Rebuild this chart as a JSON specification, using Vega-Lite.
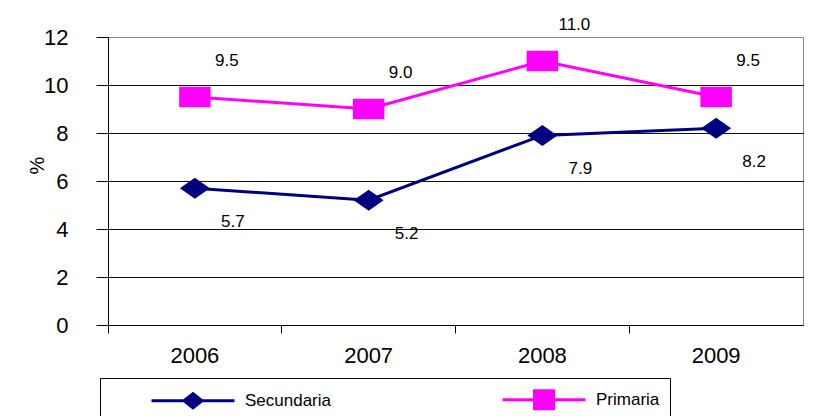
{
  "$schema": "https://vega.github.io/schema/vega-lite/v6.json",
  "autosize": "none",
  "width": 695,
  "height": 288,
  "padding": {"left": 108, "top": 37, "right": 24, "bottom": 91},
  "background": "white",
  "data": {
    "values": [
      {"year": "2006", "series": "Secundaria", "value": 5.7},
      {"year": "2007", "series": "Secundaria", "value": 5.2},
      {"year": "2008", "series": "Secundaria", "value": 7.9},
      {"year": "2009", "series": "Secundaria", "value": 8.2},
      {"year": "2006", "series": "Primaria", "value": 9.5},
      {"year": "2007", "series": "Primaria", "value": 9.0},
      {"year": "2008", "series": "Primaria", "value": 11.0},
      {"year": "2009", "series": "Primaria", "value": 9.5}
    ]
  },
  "encoding": {
    "x": {
      "field": "year", "type": "ordinal",
      "scale": {"type": "band", "paddingInner": 0, "paddingOuter": 0},
      "axis": {
        "title": null, "labelAngle": 0, "bandPosition": 0, "ticks": true, "tickSize": 8,
        "tickColor": "black", "domainColor": "black", "labelPadding": 12,
        "labelFont": "Liberation Sans", "labelFontSize": 22, "labelColor": "black", "grid": false
      }
    },
    "y": {
      "field": "value", "type": "quantitative",
      "scale": {"domain": [0, 12], "nice": false},
      "axis": {
        "values": [0, 2, 4, 6, 8, 10, 12], "grid": true,
        "gridColor": {"condition": {"test": "datum.value === 12", "value": "#888888"}, "value": "#111111"},
        "tickSize": 12, "tickColor": "black", "domainColor": "black", "labelPadding": 28,
        "labelFont": "Liberation Sans", "labelFontSize": 22, "labelColor": "black",
        "title": "%", "titleFont": "Liberation Sans", "titleFontSize": 20, "titleFontWeight": "normal",
        "titleColor": "black", "titleX": -71, "titleY": 128, "titleAngle": -90,
        "titleAlign": "center", "titleBaseline": "middle"
      }
    }
  },
  "layer": [
    {
      "mark": {"type": "line", "strokeWidth": 3},
      "encoding": {
        "color": {
          "field": "series", "type": "nominal",
          "scale": {"domain": ["Secundaria", "Primaria"], "range": ["#000080", "#FF00FF"]},
          "legend": {
            "orient": "none", "legendX": -8, "legendY": 341, "direction": "horizontal", "title": null,
            "strokeColor": "black", "padding": 10, "symbolSize": 400,
            "labelFont": "Liberation Sans", "labelFontSize": 17, "labelColor": "black",
            "labelOffset": 112, "columnPadding": 129,
            "encode": {
              "symbols": {
                "update": {
                  "shape": {"signal": "datum.value === 'Secundaria' ? 'M3,0H11.3M6.25,0L7.15,-0.7L8.05,0L7.15,0.7Z' : 'M3,0H11.3M6.2,-0.9H8.1V0.9H6.2Z'"},
                  "fill": {"scale": "color", "field": "value"},
                  "stroke": {"scale": "color", "field": "value"},
                  "strokeWidth": {"value": 3},
                  "opacity": {"value": 1},
                  "fillOpacity": {"value": 1},
                  "strokeOpacity": {"value": 1}
                }
              }
            }
          }
        }
      }
    },
    {
      "transform": [{"filter": "datum.series === 'Secundaria'"}],
      "mark": {"type": "point", "filled": true, "opacity": 1, "size": 900, "shape": "M-1,0L0,-0.7L1,0L0,0.7Z", "color": "#000080"}
    },
    {
      "transform": [{"filter": "datum.series === 'Primaria'"}],
      "mark": {"type": "point", "filled": true, "opacity": 1, "size": 900, "shape": "M-1.05,-0.68H1.05V0.68H-1.05Z", "color": "#FF00FF"}
    },
    {
      "transform": [{"filter": "datum.series === 'Primaria'"}],
      "mark": {"type": "text", "dx": 32, "dy": -36, "font": "Liberation Sans", "fontSize": 17, "color": "black"},
      "encoding": {"text": {"field": "value", "type": "quantitative", "format": ".1f"}}
    },
    {
      "transform": [{"filter": "datum.series === 'Secundaria'"}],
      "mark": {"type": "text", "dx": 38, "dy": 34, "font": "Liberation Sans", "fontSize": 17, "color": "black"},
      "encoding": {"text": {"field": "value", "type": "quantitative", "format": ".1f"}}
    }
  ],
  "config": {
    "view": {"stroke": "#888888", "strokeWidth": 1}
  }
}
